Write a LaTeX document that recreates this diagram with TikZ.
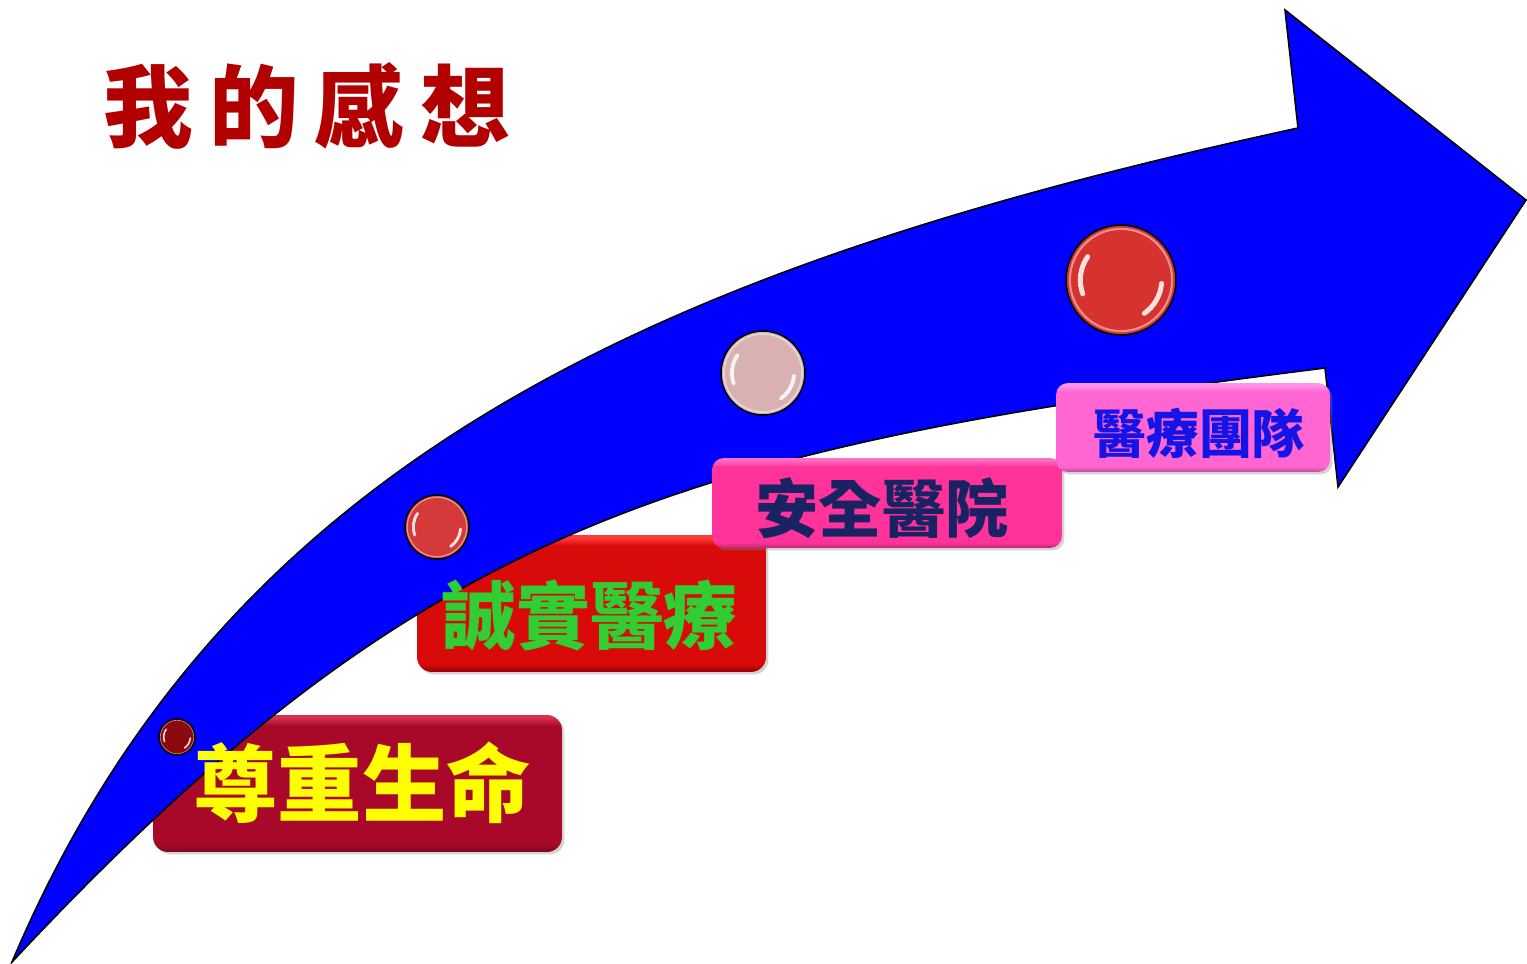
\documentclass[tikz,border=0pt]{standalone}
\usepackage{fontspec}
\usetikzlibrary{shadows}
\newfontfamily\cjk{Noto Sans CJK TC}
\definecolor{arrowblue}{RGB}{0,0,255}
\definecolor{titlered}{RGB}{178,0,0}
\definecolor{boxA}{RGB}{168,9,43}
\definecolor{boxAlight}{RGB}{214,48,80}
\definecolor{boxAdark}{RGB}{120,8,32}
\definecolor{boxB}{RGB}{216,10,10}
\definecolor{boxBlight}{RGB}{255,58,58}
\definecolor{boxBdark}{RGB}{150,5,5}
\definecolor{boxC}{RGB}{255,51,153}
\definecolor{boxClight}{RGB}{255,110,195}
\definecolor{boxCdark}{RGB}{190,38,120}
\definecolor{boxD}{RGB}{255,102,210}
\definecolor{boxDlight}{RGB}{255,150,232}
\definecolor{boxDdark}{RGB}{190,75,155}
\definecolor{txtyellow}{RGB}{255,255,0}
\definecolor{txtgreen}{RGB}{50,205,50}
\definecolor{txtnavy}{RGB}{25,35,100}
\definecolor{txtblue}{RGB}{20,20,230}
\definecolor{ballA}{RGB}{140,10,15}
\definecolor{ballB}{RGB}{212,58,58}
\definecolor{ballC}{RGB}{216,178,178}
\definecolor{ballD}{RGB}{214,50,48}
\pgfdeclareverticalshading{bevelA}{100bp}{color(0bp)=(boxAdark); color(25bp)=(boxAdark); color(28bp)=(boxA); color(71bp)=(boxA); color(74bp)=(boxAlight); color(100bp)=(boxAlight)}
\pgfdeclareverticalshading{bevelB}{100bp}{color(0bp)=(boxBdark); color(25bp)=(boxBdark); color(28bp)=(boxB); color(71bp)=(boxB); color(74bp)=(boxBlight); color(100bp)=(boxBlight)}
\pgfdeclareverticalshading{bevelC}{100bp}{color(0bp)=(boxCdark); color(25bp)=(boxCdark); color(28bp)=(boxC); color(70bp)=(boxC); color(74bp)=(boxClight); color(100bp)=(boxClight)}
\pgfdeclareverticalshading{bevelD}{100bp}{color(0bp)=(boxDdark); color(25bp)=(boxDdark); color(28bp)=(boxD); color(70bp)=(boxD); color(74bp)=(boxDlight); color(100bp)=(boxDlight)}
\begin{document}
\begin{tikzpicture}[x=0.02cm,y=-0.02cm,
  stepbox/.style={rounded corners=0.3cm, inner sep=0pt,
    drop shadow={shadow xshift=0.05cm, shadow yshift=-0.05cm, opacity=0.35}},
  ball/.style={circle, draw=black, line width=0.9pt, inner sep=0pt},
  hl/.style={white, opacity=0.85, line cap=round},
  boxtext/.style={inner sep=0pt, font=\cjk\bfseries}]
\useasboundingbox (0,0) rectangle (1527,963);

% lower boxes (beneath the arrow)
\node[stepbox, shading=bevelA, minimum width=8.18cm, minimum height=2.74cm] (b1) at (357.5,783.5) {};
\node[stepbox, shading=bevelB, minimum width=6.98cm, minimum height=2.74cm] (b2) at (591.5,603.5) {};

% the arrow
\draw[fill=arrowblue, draw=black, line width=0.9pt, line join=miter]
  (12,962) .. controls (226,456) and (663,266) .. (1298,128)
  -- (1285,10) -- (1526,200) -- (1338,487) -- (1325,368)
  .. controls (680,449) and (423,522) .. (12,962) -- cycle;

% balls on the arrow
\node[ball, fill=ballA, minimum size=0.72cm] (p1) at (177,737) {};
\node[ball, fill=ballB, minimum size=1.28cm] (p2) at (437,527) {};
\node[ball, fill=ballC, minimum size=1.68cm] (p3) at (763,373) {};
\node[ball, fill=ballD, minimum size=2.2cm] (p4) at (1121,280) {};
\foreach \n/\r in {p1/18,p2/32,p3/42,p4/55}{
  \draw[white, opacity=0.45, line width=0.04*\r*0.02cm] (\n.center) circle[radius=0.93*\r];
  \draw[hl, line width=0.09*\r*0.02cm] ([shift={(160:0.74*\r)}]\n.center) arc[start angle=160, end angle=215, radius=0.74*\r];
  \draw[hl, line width=0.09*\r*0.02cm] ([shift={(5:0.74*\r)}]\n.center) arc[start angle=5, end angle=55, radius=0.74*\r];
}

% upper boxes (over the arrow)
\node[stepbox, rounded corners=0.24cm, shading=bevelC, minimum width=7.0cm, minimum height=1.8cm] (b3) at (887,503) {};
\node[stepbox, rounded corners=0.24cm, shading=bevelD, minimum width=5.48cm, minimum height=1.78cm] (b4) at (1193,427.5) {};

% texts
\node[boxtext, text=txtyellow, font=\cjk\bfseries\fontsize{48}{56}\selectfont] (t1) at (362,783) {尊重生命};
\node[boxtext, text=txtgreen, font=\cjk\bfseries\fontsize{42}{50}\selectfont] (t2) at (590,615) {誠實醫療};
\node[boxtext, text=txtnavy, font=\cjk\bfseries\fontsize{36}{42}\selectfont] (t3) at (882,508) {安全醫院};
\node[boxtext, text=txtblue, font=\cjk\bfseries\fontsize{30}{36}\selectfont] (t4) at (1199,433) {醫療團隊};

% title
\node[inner sep=0pt, text=titlered, font=\cjk\bfseries\fontsize{51}{60}\selectfont] (title) at (307,106)
  {我\hspace{0.32cm}的\hspace{0.32cm}感\hspace{0.32cm}想};
\end{tikzpicture}
\end{document}
